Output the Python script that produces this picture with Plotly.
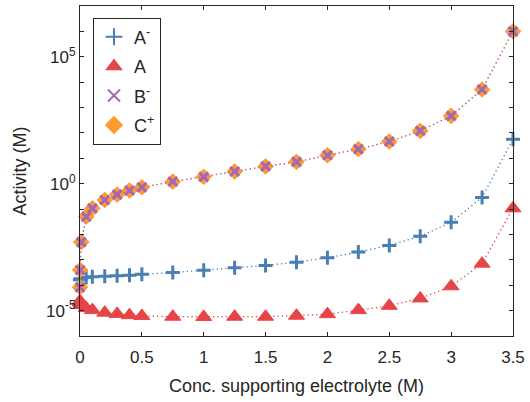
import plotly.graph_objects as go

conc = [0, 0.001, 0.01, 0.05, 0.1, 0.2, 0.3, 0.4, 0.5, 0.75, 1.0, 1.25,
        1.5, 1.75, 2.0, 2.25, 2.5, 2.75, 3.0, 3.25, 3.5]

log_a_minus = [-3.78, -3.76, -3.74, -3.70, -3.67, -3.65, -3.63, -3.61, -3.57, -3.50,
               -3.41, -3.31, -3.22, -3.09, -2.92, -2.69, -2.43, -2.07, -1.52, -0.54, 1.75]
log_a = [-4.62, -4.68, -4.78, -4.90, -4.98, -5.08, -5.13, -5.18, -5.21, -5.24,
         -5.25, -5.24, -5.24, -5.20, -5.14, -4.98, -4.81, -4.52, -4.04, -3.15, -0.97]
log_b_minus = [-4.08, -3.40, -2.30, -1.30, -0.97, -0.64, -0.43, -0.27, -0.14, 0.08,
               0.27, 0.48, 0.68, 0.86, 1.12, 1.36, 1.66, 2.08, 2.67, 3.71, 6.0]
log_c_plus = list(log_b_minus)

ytick_exps = list(range(-6, 8))
ytick_labels = {-5: "10<sup>-5</sup>", 0: "10<sup>0</sup>", 5: "10<sup>5</sup>"}
xtick_vals = [0, 0.5, 1, 1.5, 2, 2.5, 3, 3.5]
xtick_text = ["0", "0.5", "1", "1.5", "2", "2.5", "3", "3.5"]

col_blue = "#4a7fb3"
col_red = "#e64548"
col_purple = "#a467b3"
col_orange = "#ff9a2e"
ink = "#262626"

def pw(vals):
    return [10 ** v for v in vals]

series = [
    ("A<sup>-</sup>", log_a_minus, col_blue, dict(symbol="cross-thin", size=10, line_width=3)),
    ("A", log_a, col_red, dict(symbol="triangle-up", size=14, line_width=1)),
    ("C<sup>+</sup>", log_c_plus, col_orange, dict(symbol="diamond", size=12, line_width=1)),
    ("B<sup>-</sup>", log_b_minus, col_purple, dict(symbol="x-thin", size=9, line_width=3)),
]
legend_order = {"A<sup>-</sup>": 1, "A": 2, "B<sup>-</sup>": 3, "C<sup>+</sup>": 4}

fig = go.Figure()
for name, vals, col, m in series:
    fig.add_trace(go.Scatter(
        x=conc, y=pw(vals), mode="lines+markers", showlegend=False,
        line=dict(color=col, width=1.3, dash="1.3px,3px"),
        marker=dict(symbol=m["symbol"], size=m["size"], color=col,
                    line=dict(color=col, width=m["line_width"])),
        cliponaxis=False, hoverinfo="skip"))
for name, vals, col, m in series:
    fig.add_trace(go.Scatter(
        x=[None], y=[None], mode="markers", name=name,
        legendrank=legend_order[name], legendgroup=name,
        marker=dict(symbol=m["symbol"], size=m["size"], color=col,
                    line=dict(color=col, width=m["line_width"]))))

fig.update_layout(
    width=530, height=402,
    margin=dict(l=80, r=13, t=5, b=66),
    paper_bgcolor="white", plot_bgcolor="white",
    font=dict(family="Liberation Sans, Arial, sans-serif", size=17, color=ink),
    showlegend=True,
    legend=dict(x=0.03, y=0.965, xanchor="left", yanchor="top",
                bordercolor=ink, borderwidth=1, bgcolor="white",
                font=dict(size=18), itemsizing="constant", itemwidth=30,
                traceorder="grouped", tracegroupgap=3),
)
fig.update_xaxes(
    range=[0, 3.5], tickvals=xtick_vals, ticktext=xtick_text,
    ticks="inside", ticklen=4, tickcolor=ink, mirror="ticks",
    showline=True, linecolor=ink, linewidth=1, showgrid=False, zeroline=False,
    ticklabelstandoff=6,
    title=dict(text="Conc. supporting electrolyte (M)", font=dict(size=18), standoff=12),
)
fig.update_yaxes(
    type="log", range=[-6, 7],
    tickvals=[10 ** e for e in ytick_exps],
    ticktext=[ytick_labels.get(e, "") for e in ytick_exps],
    ticks="inside", ticklen=4, tickcolor=ink, mirror="ticks",
    showline=True, linecolor=ink, linewidth=1, showgrid=False, zeroline=False,
    title=dict(text="Activity (M)", font=dict(size=18), standoff=14),
)

fig.write_html("out.html")
